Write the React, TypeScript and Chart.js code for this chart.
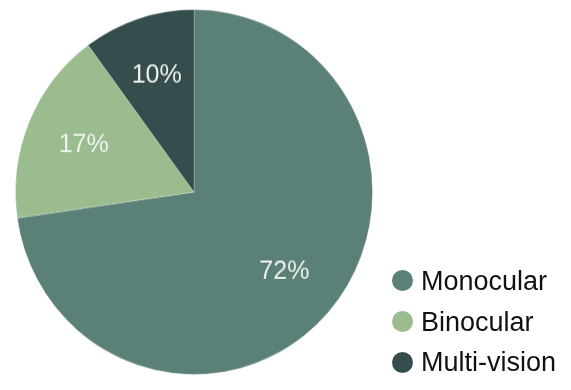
import React, { useEffect, useRef } from "react";
import { Chart, registerables } from "chart.js";

Chart.register(...registerables);

const categories = ["Monocular", "Binocular", "Multi-vision"];
const values = [72, 17, 10];
const colors = ["#5b8077", "#9bbc8e", "#354d4c"];

const FONT = "'Liberation Sans', Arial, Helvetica, sans-serif";

const pctLabels = {
  id: "pctLabels",
  afterDatasetsDraw(chart: any) {
    const { ctx } = chart;
    const meta = chart.getDatasetMeta(0);
    ctx.save();
    ctx.fillStyle = "#eef2ee";
    ctx.font = `25px ${FONT}`;
    ctx.textAlign = "center";
    ctx.textBaseline = "middle";
    meta.data.forEach((arc: any, i: number) => {
      const { x, y, startAngle, endAngle, outerRadius } = arc.getProps(
        ["x", "y", "startAngle", "endAngle", "outerRadius"],
        true
      );
      const mid = (startAngle + endAngle) / 2;
      const r = outerRadius * 0.67;
      ctx.fillText(`${values[i]}%`, x + Math.cos(mid) * r, y + Math.sin(mid) * r);
    });
    ctx.restore();
  },
};

export default function App() {
  const ref = useRef<HTMLCanvasElement>(null);
  useEffect(() => {
    if (!ref.current) return;
    const chart = new Chart(ref.current, {
      type: "pie",
      data: {
        labels: categories,
        datasets: [
          {
            data: values,
            backgroundColor: colors,
            borderColor: "rgba(255,255,255,0.22)",
            borderWidth: 1,
          },
        ],
      },
      options: {
        responsive: false,
        animation: false,
        layout: { padding: { left: 15, top: 13, right: 198, bottom: 19 } },
        plugins: { legend: { display: false }, tooltip: { enabled: false } },
      },
      plugins: [pctLabels],
    });
    return () => chart.destroy();
  }, []);

  const legendY = [280.5, 321.5, 362];
  return (
    <div style={{ position: "fixed", left: 0, top: 0, width: 571, height: 390, background: "#fff", overflow: "hidden" }}>
      <canvas
        ref={ref}
        width={571}
        height={390}
        style={{ display: "block", transform: "scaleY(1.022)", transformOrigin: "0px 192px" }}
      />
      {categories.map((c, i) => (
        <div key={c}>
          <div
            style={{
              position: "absolute",
              left: 392,
              top: legendY[i] - 10.5,
              width: 21,
              height: 21,
              borderRadius: "50%",
              background: colors[i],
            }}
          />
          <div
            style={{
              position: "absolute",
              left: 421,
              top: legendY[i] - 16,
              height: 32,
              lineHeight: "32px",
              fontFamily: FONT,
              fontSize: 27,
              color: "#111",
              whiteSpace: "nowrap",
            }}
          >
            {c}
          </div>
        </div>
      ))}
    </div>
  );
}
